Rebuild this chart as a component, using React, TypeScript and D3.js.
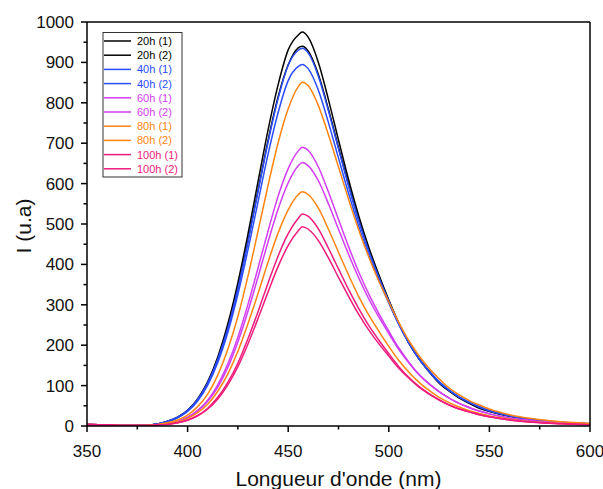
import React from "react";
import * as d3 from "d3";

const wavelengths = [350, 360, 370, 380, 385, 390, 395, 400, 405, 410, 415, 420, 425, 430, 435, 440, 445, 450, 455, 457, 460, 465, 470, 475, 480, 485, 490, 495, 500, 505, 510, 515, 520, 525, 530, 535, 540, 545, 550, 560, 570, 580, 590, 600];

const h20_1 = [4, 3, 1, 2, 5, 12, 22, 39, 67, 110, 171, 253, 355, 475, 605, 733, 845, 931, 968, 975, 962, 900, 808, 708, 610, 521, 443, 375, 312, 254, 205, 166, 134, 106, 86, 69, 56, 44, 36, 24, 16, 11, 7, 5];
const h20_2 = [4, 3, 1, 2, 5, 11, 21, 38, 65, 106, 165, 243, 342, 458, 583, 707, 815, 894, 936, 940, 928, 870, 784, 689, 597, 511, 436, 371, 310, 254, 206, 167, 136, 109, 88, 71, 58, 47, 38, 25, 17, 11, 8, 5];
const h40_1 = [4, 3, 1, 2, 5, 12, 22, 39, 66, 107, 165, 242, 340, 455, 580, 703, 811, 893, 930, 935, 923, 866, 780, 686, 594, 509, 434, 369, 309, 252, 205, 166, 135, 108, 88, 71, 58, 46, 37, 25, 17, 11, 8, 5];
const h40_2 = [4, 3, 1, 2, 5, 11, 20, 36, 62, 101, 157, 232, 326, 436, 555, 673, 776, 855, 890, 895, 884, 831, 751, 663, 576, 496, 424, 362, 304, 251, 205, 166, 136, 110, 89, 72, 59, 48, 38, 26, 17, 12, 8, 6];
const h60_1 = [4, 3, 1, 1, 3, 6, 12, 22, 39, 64, 102, 154, 220, 301, 391, 483, 569, 637, 681, 690, 682, 641, 579, 511, 444, 382, 327, 279, 235, 193, 158, 128, 105, 85, 69, 56, 45, 37, 30, 20, 13, 9, 6, 4];
const h60_2 = [4, 3, 1, 1, 3, 6, 11, 21, 37, 61, 96, 145, 208, 284, 369, 456, 537, 602, 644, 652, 644, 607, 550, 487, 425, 367, 315, 270, 229, 189, 156, 127, 104, 85, 69, 56, 46, 37, 30, 20, 14, 9, 6, 5];
const h80_1 = [4, 3, 1, 2, 4, 8, 15, 27, 48, 79, 126, 190, 271, 371, 482, 596, 701, 785, 840, 851, 842, 793, 721, 641, 561, 486, 419, 359, 307, 256, 211, 174, 143, 117, 94, 77, 63, 52, 42, 28, 19, 13, 9, 6];
const h80_2 = [4, 3, 1, 1, 3, 5, 10, 19, 33, 54, 86, 129, 185, 253, 328, 406, 478, 535, 573, 580, 573, 539, 487, 430, 374, 321, 275, 235, 197, 162, 133, 108, 88, 71, 58, 47, 38, 31, 25, 17, 11, 8, 5, 4];
const h100_1 = [4, 3, 1, 1, 3, 4, 8, 15, 26, 44, 71, 108, 156, 216, 283, 354, 421, 476, 514, 525, 519, 488, 440, 389, 338, 291, 249, 213, 179, 147, 120, 98, 80, 65, 52, 42, 35, 28, 23, 15, 10, 7, 5, 3];
const h100_2 = [4, 3, 1, 1, 3, 4, 8, 14, 25, 42, 67, 102, 147, 203, 266, 332, 395, 447, 483, 493, 487, 459, 416, 368, 321, 277, 238, 204, 173, 143, 118, 96, 79, 64, 52, 42, 35, 28, 23, 15, 10, 7, 5, 3];

const seriesNames = ["20h (1)", "20h (2)", "40h (1)", "40h (2)", "60h (1)", "60h (2)", "80h (1)", "80h (2)", "100h (1)", "100h (2)"];
const seriesColors = ["#000000", "#000000", "#2a4cff", "#2a4cff", "#d23cf2", "#d23cf2", "#ff8410", "#ff8410", "#ee1a7c", "#ee1a7c"];
const seriesValues = [h20_1, h20_2, h40_1, h40_2, h60_1, h60_2, h80_1, h80_2, h100_1, h100_2];

const xMajor = [350, 400, 450, 500, 550, 600];
const xMinor = [375, 425, 475, 525, 575];
const yMajor = [0, 100, 200, 300, 400, 500, 600, 700, 800, 900, 1000];
const yMinor = [50, 150, 250, 350, 450, 550, 650, 750, 850, 950];

const W = 603;
const H = 489;
const L = 87;
const R = 590;
const T = 22;
const B = 426;

const FONT = "'Liberation Sans', Arial, sans-serif";

export default function App() {
  const x = d3.scaleLinear().domain([350, 600]).range([L, R]);
  const y = d3.scaleLinear().domain([0, 1000]).range([B, T]);
  const line = d3
    .line<number>()
    .x((_, i) => x(wavelengths[i]))
    .y((v) => y(v))
    .curve(d3.curveMonotoneX);

  const legX = 103;
  const legY = 32.5;
  const rowH = 14.2;

  return (
    <svg width={W} height={H} style={{ position: "absolute", left: 0, top: 0, background: "#fff" }} fontFamily={FONT}>
      <defs>
        <clipPath id="plot">
          <rect x={L} y={T} width={R - L} height={B - T} />
        </clipPath>
      </defs>
      <rect x={0} y={0} width={W} height={H} fill="#fff" />
      <g clipPath="url(#plot)" fill="none">
        {seriesValues.map((vals, i) => (
          <path key={i} d={line(vals) || ""} stroke={seriesColors[i]} strokeWidth={1.5} strokeLinejoin="round" />
        ))}
      </g>
      {/* frame */}
      <g stroke="#000" strokeWidth={1.5} fill="none">
        <line x1={L} y1={T} x2={R} y2={T} />
        <line x1={R} y1={T} x2={R} y2={B} />
        <line x1={L} y1={T} x2={L} y2={B} />
        <line x1={L} y1={B} x2={R} y2={B} />
        {xMajor.map((v) => (
          <line key={"xM" + v} x1={x(v)} x2={x(v)} y1={B} y2={B + 6} />
        ))}
        {xMinor.map((v) => (
          <line key={"xm" + v} x1={x(v)} x2={x(v)} y1={B} y2={B + 3.5} />
        ))}
        {yMajor.map((v) => (
          <line key={"yM" + v} x1={L - 6} x2={L} y1={y(v)} y2={y(v)} />
        ))}
        {yMinor.map((v) => (
          <line key={"ym" + v} x1={L - 3.5} x2={L} y1={y(v)} y2={y(v)} />
        ))}
      </g>
      <g fontSize={17} fill="#111">
        {xMajor.map((v) => (
          <text key={"xl" + v} x={x(v)} y={457} textAnchor="middle">
            {v}
          </text>
        ))}
        {yMajor.map((v) => (
          <text key={"yl" + v} x={74} y={y(v) + 6} textAnchor="end">
            {v}
          </text>
        ))}
      </g>
      <text x={(L + R) / 2} y={486} textAnchor="middle" fontSize={21} fill="#111">
        Longueur d'onde (nm)
      </text>
      <text transform={`translate(31,226) rotate(-90)`} textAnchor="middle" fontSize={21} fill="#111">
        I (u.a)
      </text>
      {/* legend */}
      <rect x={legX} y={legY} width={79} height={144.5} fill="#fff" stroke="#333" strokeWidth={1} />
      {seriesNames.map((name, i) => {
        const ry = legY + 8.5 + i * rowH;
        return (
          <g key={name}>
            <line x1={legX + 1} x2={legX + 28} y1={ry} y2={ry} stroke={seriesColors[i]} strokeWidth={1.5} />
            <text x={legX + 34} y={ry + 4} fontSize={11} fill={seriesColors[i]}>
              {name}
            </text>
          </g>
        );
      })}
    </svg>
  );
}
